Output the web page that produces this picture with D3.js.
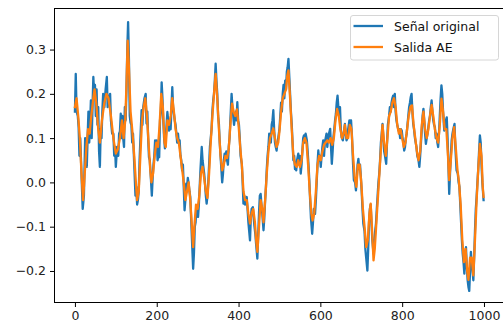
<!DOCTYPE html>
<html>
<head>
<meta charset="utf-8">
<script src="https://cdn.jsdelivr.net/npm/d3@7/dist/d3.min.js"></script>
<style>
  html, body { margin: 0; padding: 0; background: #fff; }
  svg { display: block; font-family: "DejaVu Sans", sans-serif; }
</style>
</head>
<body>
<svg id="chart" width="503" height="331"></svg>
<script>
// ---- data ----
const seriesNames = ["Señal original", "Salida AE"];

const originalX = [0,2,4,7,9,11,13,16,19,22,25,27,29,31,33,35,37,39,41,43,45,47,49,51,53,55,57,59,61,63,65,67,69,72,75,78,80,83,86,88,91,94,96,98,100,103,106,108,110,112,114,116,118,120,122,124,126,128,130,132,134,136,138,140,142,145,148,150,152,154,156,158,161,163,165,167,170,173,175,177,179,181,183,185,188,190,192,194,196,198,200,202,204,206,208,210,212,214,216,218,220,222,224,226,228,230,232,234,236,238,240,242,244,246,248,250,252,254,256,258,260,262,264,266,268,270,272,274,276,278,280,282,284,287,289,291,293,295,297,299,301,303,305,307,310,312,314,316,318,320,322,324,326,328,330,332,334,336,338,340,342,344,346,348,350,352,354,356,358,360,362,364,366,368,370,372,374,376,378,380,383,385,387,389,391,393,395,397,399,401,403,405,408,410,412,414,416,418,420,422,424,426,428,430,432,435,437,439,441,443,446,448,450,452,454,456,458,461,463,465,467,469,471,473,475,477,479,481,483,485,487,489,491,493,495,497,500,502,504,506,508,510,512,514,516,518,520,522,524,526,528,530,532,534,536,538,540,541,543,546,548,550,552,554,556,558,560,562,564,567,569,571,573,575,577,580,582,584,587,589,591,593,595,597,599,601,603,605,607,609,611,613,615,617,619,621,624,626,628,630,632,634,636,638,640,642,644,646,648,650,652,655,657,660,662,664,666,668,671,673,675,677,680,682,685,687,689,691,693,695,697,699,701,703,705,708,710,712,715,717,719,721,723,725,727,730,732,734,736,738,740,742,744,746,748,750,752,754,756,758,761,763,765,768,770,772,774,776,778,780,782,784,786,788,791,793,795,797,799,801,803,805,807,809,811,813,815,817,819,821,823,825,827,829,831,833,835,837,840,842,844,846,848,850,852,854,856,858,860,862,864,866,868,870,872,874,876,878,880,882,884,886,888,890,892,894,896,898,900,902,903,905,907,909,911,913,915,917,919,921,923,925,928,930,933,936,938,940,942,944,946,948,950,952,954,956,958,960,962,964,966,968,970,972,974,976,978,980,982,984,986,988,990,992,994,996,999];
const originalY = [0.16,0.245,0.16,0.15,0.125,0.06,0.10,0.02,-0.06,-0.03,0.10,0.06,0.035,0.10,0.16,0.09,0.13,0.185,0.10,0.17,0.238,0.20,0.22,0.15,0.21,0.13,0.17,0.07,0.035,0.12,0.10,0.16,0.20,0.17,0.21,0.238,0.17,0.19,0.20,0.14,0.11,0.11,0.06,0.08,0.035,0.08,0.06,0.11,0.115,0.155,0.10,0.15,0.10,0.08,0.17,0.14,0.21,0.30,0.362,0.28,0.15,0.135,0.13,0.09,0.11,0.04,-0.03,-0.01,-0.05,-0.04,-0.02,0.05,0.12,0.163,0.13,0.17,0.19,0.20,0.133,0.16,0.10,0.057,0.05,0.02,-0.03,0.01,0.04,0.06,0.095,0.08,0.095,0.05,0.06,0.057,0.14,0.16,0.226,0.19,0.14,0.10,0.077,0.10,0.13,0.159,0.14,0.117,0.14,0.12,0.17,0.215,0.17,0.155,0.14,0.13,0.11,0.09,0.11,0.088,0.095,0.06,0.05,0.027,0.04,-0.01,-0.063,-0.04,-0.003,-0.01,0.01,-0.003,-0.02,-0.033,-0.08,-0.15,-0.195,-0.16,-0.10,-0.09,-0.056,-0.07,-0.078,-0.05,-0.01,0.03,0.08,0.05,0.035,0.02,-0.003,-0.03,-0.048,-0.03,0.0,0.04,0.08,0.10,0.12,0.16,0.185,0.20,0.23,0.268,0.23,0.20,0.15,0.132,0.09,0.06,0.03,0.0,0.02,0.05,0.065,0.05,0.07,0.05,0.04,0.08,0.10,0.14,0.20,0.17,0.15,0.13,0.147,0.16,0.14,0.181,0.14,0.13,0.10,0.06,0.042,0.0,-0.048,-0.03,-0.05,-0.04,-0.033,-0.06,-0.09,-0.11,-0.131,-0.08,-0.06,-0.056,-0.08,-0.10,-0.116,-0.14,-0.172,-0.12,-0.07,-0.03,-0.026,-0.05,-0.07,-0.108,-0.08,-0.04,-0.01,0.03,0.06,0.08,0.11,0.102,0.09,0.13,0.14,0.163,0.12,0.09,0.08,0.072,0.09,0.10,0.121,0.15,0.18,0.16,0.20,0.22,0.19,0.23,0.21,0.25,0.26,0.279,0.24,0.20,0.16,0.132,0.09,0.05,0.06,0.03,0.045,0.027,0.05,0.065,0.04,0.06,0.02,0.04,0.07,0.10,0.106,0.09,0.11,0.095,0.07,0.04,0.005,-0.04,-0.08,-0.116,-0.09,-0.06,-0.071,-0.04,0.0,0.04,0.072,0.05,0.06,0.035,0.06,0.08,0.095,0.06,0.09,0.10,0.11,0.08,0.10,0.11,0.121,0.08,0.042,0.07,0.102,0.12,0.14,0.155,0.18,0.196,0.17,0.15,0.17,0.12,0.102,0.095,0.11,0.132,0.11,0.095,0.10,0.12,0.14,0.13,0.14,0.11,0.04,0.005,0.0,-0.018,0.01,0.04,0.053,0.03,0.04,0.012,-0.02,-0.06,-0.093,-0.11,-0.15,-0.17,-0.199,-0.15,-0.09,-0.06,-0.05,-0.09,-0.13,-0.161,-0.14,-0.11,-0.093,-0.06,-0.03,0.0,0.02,0.05,0.09,0.11,0.132,0.10,0.07,0.06,0.042,0.09,0.13,0.15,0.17,0.16,0.18,0.19,0.196,0.17,0.20,0.16,0.14,0.13,0.117,0.12,0.10,0.12,0.117,0.10,0.09,0.072,0.08,0.10,0.11,0.13,0.15,0.17,0.18,0.193,0.20,0.16,0.132,0.12,0.102,0.09,0.08,0.06,0.05,0.035,0.06,0.09,0.12,0.15,0.166,0.14,0.11,0.087,0.10,0.11,0.125,0.14,0.15,0.17,0.185,0.16,0.14,0.13,0.125,0.10,0.11,0.09,0.08,0.11,0.15,0.19,0.219,0.20,0.16,0.13,0.117,0.13,0.14,0.147,0.10,0.04,-0.026,0.02,0.06,0.095,0.11,0.12,0.132,0.08,0.027,0.02,0.0,-0.01,-0.05,-0.09,-0.13,-0.161,-0.18,-0.206,-0.17,-0.146,-0.19,-0.22,-0.236,-0.245,-0.20,-0.157,-0.18,-0.20,-0.221,-0.17,-0.11,-0.06,-0.033,0.0,0.03,0.07,0.106,0.09,0.04,0.0,-0.04];

const outputX = [0,4,8,12,16,20,24,28,32,36,40,45,48,52,57,61,66,72,77,82,88,94,100,105,110,115,119,123,126,129,132,136,140,145,149,152,156,160,164,168,172,176,180,184,187,191,195,199,203,207,211,215,219,222,226,230,234,238,242,246,250,254,258,262,266,270,274,278,282,286,289,292,296,300,304,308,312,316,320,324,328,332,336,340,344,348,352,356,360,364,368,372,376,380,384,388,392,396,400,404,408,412,416,420,424,428,432,436,440,443,446,450,454,458,461,465,469,473,477,481,485,489,493,497,500,504,508,512,516,519,522,526,530,534,538,542,546,550,554,558,562,566,570,574,578,581,585,589,593,597,601,605,609,613,617,621,625,629,633,637,641,645,649,653,657,660,664,668,672,676,680,684,688,692,696,700,704,708,712,716,720,723,726,730,733,737,741,745,749,752,756,760,764,768,772,776,780,784,788,792,796,800,804,808,812,816,820,824,828,832,836,840,844,848,852,856,860,864,868,872,876,880,884,888,892,896,900,904,908,912,915,919,923,927,931,935,939,943,947,951,955,959,962,966,970,974,978,982,986,990,994,997,999];
const outputY = [0.17,0.19,0.15,0.10,0.02,-0.04,0.02,0.08,0.12,0.11,0.15,0.19,0.21,0.18,0.12,0.09,0.14,0.18,0.20,0.19,0.15,0.10,0.065,0.075,0.10,0.14,0.10,0.14,0.22,0.32,0.26,0.16,0.12,0.06,0.0,-0.04,-0.02,0.06,0.14,0.17,0.19,0.15,0.09,0.03,0.0,0.02,0.06,0.09,0.08,0.13,0.20,0.17,0.09,0.08,0.14,0.13,0.15,0.19,0.16,0.12,0.10,0.09,0.06,0.03,0.0,-0.04,-0.02,0.0,-0.04,-0.10,-0.146,-0.10,-0.05,-0.06,-0.03,0.02,0.035,0.01,-0.02,-0.035,0.02,0.09,0.15,0.20,0.245,0.19,0.12,0.06,0.027,0.04,0.06,0.055,0.075,0.13,0.178,0.16,0.15,0.165,0.13,0.08,0.04,-0.02,-0.04,-0.04,-0.07,-0.093,-0.07,-0.06,-0.09,-0.13,-0.157,-0.10,-0.04,-0.06,-0.09,-0.04,0.02,0.07,0.10,0.11,0.122,0.10,0.08,0.09,0.115,0.16,0.19,0.20,0.21,0.24,0.253,0.19,0.12,0.06,0.04,0.035,0.05,0.035,0.05,0.09,0.10,0.09,0.04,-0.02,-0.07,-0.086,-0.07,-0.02,0.04,0.06,0.05,0.07,0.085,0.09,0.095,0.09,0.10,0.085,0.10,0.14,0.166,0.15,0.12,0.10,0.11,0.13,0.10,0.10,0.13,0.12,0.06,0.01,-0.01,0.04,0.04,0.0,-0.06,-0.10,-0.146,-0.13,-0.07,-0.048,-0.10,-0.176,-0.15,-0.09,-0.03,0.03,0.09,0.13,0.09,0.06,0.10,0.15,0.16,0.18,0.19,0.17,0.13,0.11,0.12,0.10,0.08,0.09,0.12,0.15,0.17,0.174,0.13,0.10,0.07,0.05,0.07,0.13,0.16,0.12,0.10,0.12,0.15,0.175,0.15,0.12,0.10,0.09,0.13,0.189,0.16,0.12,0.12,0.06,0.005,0.05,0.10,0.125,0.08,0.03,0.0,-0.05,-0.13,-0.18,-0.15,-0.20,-0.22,-0.17,-0.17,-0.21,-0.13,-0.04,0.03,0.087,0.06,-0.01,-0.033];

const xTicks = [0, 200, 400, 600, 800, 1000];
const yTicks = [-0.2, -0.1, 0.0, 0.1, 0.2, 0.3];

// ---- layout ----
const W = 503, H = 331;
const plot = { left: 54.5, right: 504, top: 8.5, bottom: 302.5 };
const colors = ["#1f77b4", "#ff7f0e"];
const fontSize = 12.5;
const lineWidth = 2.3;

const svg = d3.select("#chart");

const x = d3.scaleLinear().domain([-49.95, 1048.95]).range([plot.left, plot.right]);
const y = d3.scaleLinear().domain([-0.2712, 0.3927]).range([plot.bottom, plot.top]);

const original = originalX.map((v, i) => [v, originalY[i]]);
const output = outputX.map((v, i) => [v, outputY[i]]);

const line = d3.line().x(d => x(d[0])).y(d => y(d[1]));

svg.append("rect").attr("x", 0).attr("y", 0).attr("width", W).attr("height", H).attr("fill", "#fff");

const g = svg.append("g");
[original, output].forEach((data, i) => {
  g.append("path")
    .datum(data)
    .attr("fill", "none")
    .attr("stroke", colors[i])
    .attr("stroke-width", lineWidth)
    .attr("stroke-linejoin", "round")
    .attr("stroke-linecap", "square")
    .attr("d", line);
});

// axes
const fmtY = d3.format(".1f");
const xAxis = d3.axisBottom(x).tickValues(xTicks).tickSize(4.5).tickPadding(4).tickSizeOuter(0).tickFormat(d3.format("d"));
const yAxis = d3.axisLeft(y).tickValues(yTicks).tickSize(4.5).tickPadding(4).tickSizeOuter(0).tickFormat(fmtY);

const gx = svg.append("g").attr("transform", `translate(0,${plot.bottom})`).call(xAxis);
const gy = svg.append("g").attr("transform", `translate(${plot.left},0)`).call(yAxis);
[gx, gy].forEach(ax => {
  ax.select(".domain").remove();
  ax.selectAll(".tick line").attr("stroke", "#000").attr("stroke-width", 1);
  ax.selectAll(".tick text").attr("fill", "#222").style("font-size", fontSize + "px").style("font-family", "DejaVu Sans");
});

// spines
const spines = svg.append("g").attr("stroke", "#000").attr("stroke-width", 1).attr("fill", "none");
spines.append("rect")
  .attr("x", plot.left).attr("y", plot.top)
  .attr("width", plot.right - plot.left).attr("height", plot.bottom - plot.top);

// legend
const legend = svg.append("g");
legend.append("rect")
  .attr("x", 350.5).attr("y", 15.5).attr("width", 148).attr("height", 44.5)
  .attr("rx", 2.5).attr("ry", 2.5)
  .attr("fill", "#fff").attr("fill-opacity", 0.8)
  .attr("stroke", "#d6d6d6").attr("stroke-width", 1);
const legendRows = [26, 47];
seriesNames.forEach((name, i) => {
  legend.append("line")
    .attr("x1", 353.5).attr("x2", 383)
    .attr("y1", legendRows[i]).attr("y2", legendRows[i])
    .attr("stroke", colors[i]).attr("stroke-width", lineWidth);
  legend.append("text")
    .attr("x", 394).attr("y", legendRows[i] + 4.5)
    .attr("fill", "#111")
    .style("font-size", fontSize + "px")
    .style("font-family", "DejaVu Sans")
    .text(name);
});
</script>
</body>
</html>
